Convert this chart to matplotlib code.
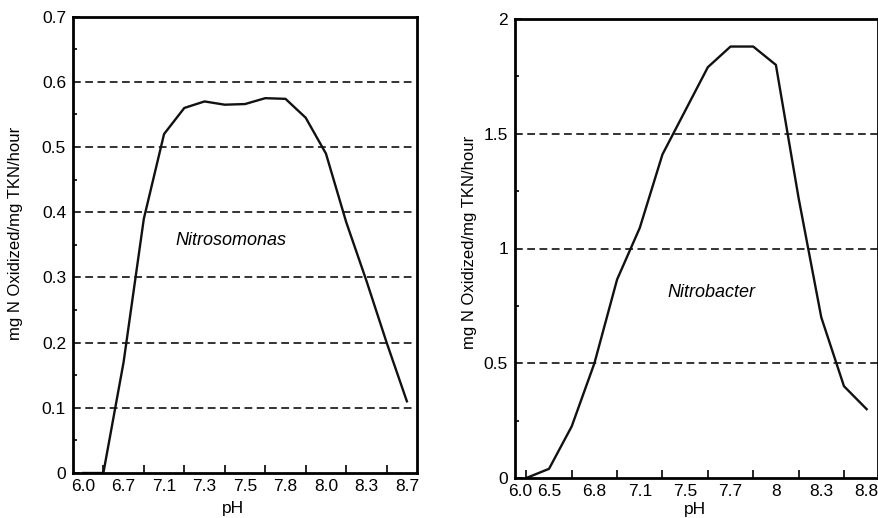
import matplotlib
matplotlib.use('Agg')
import matplotlib.pyplot as plt
from matplotlib.ticker import FixedLocator, MultipleLocator, NullFormatter

plt.rcParams['font.family'] = ['Liberation Sans', 'DejaVu Sans']

# Nitrosomonas: 17 evenly spaced points, labels on every other one
nitroso_labels = ['6.0', '6.7', '7.1', '7.3', '7.5', '7.8', '8.0', '8.3', '8.7']
nitroso_rate = [0, 0, 0.17, 0.39, 0.52, 0.56, 0.57, 0.565, 0.566, 0.575,
                0.574, 0.545, 0.49, 0.385, 0.295, 0.2, 0.11]
nitroso_grid = [0.1, 0.2, 0.3, 0.4, 0.5, 0.6]

# Nitrobacter: 16 evenly spaced points
nitrob_labels = ['6.0', '6.5', '6.8', '7.1', '7.5', '7.7', '8', '8.3', '8.8']
nitrob_rate = [0, 0.04, 0.225, 0.5, 0.865, 1.09, 1.41, 1.6, 1.79, 1.88,
               1.88, 1.8, 1.22, 0.7, 0.4, 0.3]
nitrob_grid = [0.5, 1.0, 1.5]

ylab = 'mg N Oxidized/mg TKN/hour'
dash = (0, (4, 2.3))
tick_fs = 12.5

fig = plt.figure(figsize=(8.79, 5.18), dpi=100)
ax1 = fig.add_axes([73/879, 1-473/518, 344/879, 456.3/518])
ax2 = fig.add_axes([515/879, 1-478/518, 363/879, 459/518])


def style(ax, n, label_pos, labels, ymax, ymaj, ymin_step):
    ax.set_xlim(-0.5, n - 0.5)
    ax.set_ylim(0, ymax)
    ax.xaxis.set_minor_locator(FixedLocator(list(range(n))))
    ax.xaxis.set_minor_formatter(NullFormatter())
    ax.set_xticks(label_pos)
    ax.set_xticklabels(labels)
    ax.yaxis.set_major_locator(MultipleLocator(ymaj))
    ax.yaxis.set_minor_locator(MultipleLocator(ymin_step))
    ax.tick_params(axis='x', which='major', length=0, pad=4, labelsize=tick_fs)
    ax.tick_params(axis='x', which='minor', direction='in', length=5.5, width=1.2)
    ax.tick_params(axis='y', which='major', direction='in', length=5, width=1.2,
                   pad=5, labelsize=tick_fs)
    ax.tick_params(axis='y', which='minor', direction='in', length=3, width=1.2)
    for s in ax.spines.values():
        s.set_linewidth(2)


# left panel
n1 = len(nitroso_rate)
style(ax1, n1, list(range(0, n1, 2)), nitroso_labels, 0.7, 0.1, 0.05)
ax1.yaxis.set_major_formatter(plt.FuncFormatter(lambda v, p: '0' if v == 0 else f'{v:.1f}'))
for g in nitroso_grid:
    ax1.axhline(g, xmin=0, xmax=0.985, ls=dash, lw=1.4, color='#333333')
ax1.plot(range(n1), nitroso_rate, color='#111111', lw=1.7)
ax1.text(7.3, 0.357, 'Nitrosomonas', style='italic', fontsize=13,
         ha='center', va='center')
ax1.set_xlabel('pH', fontsize=12.5)
ax1.xaxis.set_label_coords(0.465, -0.062)
ax1.set_ylabel(ylab, fontsize=12)
ax1.yaxis.set_label_coords(-0.146, 0.526)

# right panel
n2 = len(nitrob_rate)
style(ax2, n2, [-0.25] + list(range(1, n2, 2)), nitrob_labels, 2, 0.5, 0.25)
ax2.yaxis.set_major_formatter(plt.FuncFormatter(lambda v, p: f'{v:g}'))
for g in nitrob_grid:
    ax2.axhline(g, ls=dash, lw=1.4, color='#333333')
ax2.plot(range(n2), nitrob_rate, color='#111111', lw=1.7)
ax2.text(8.15, 0.81, 'Nitrobacter', style='italic', fontsize=13,
         ha='center', va='center')
ax2.set_xlabel('pH', fontsize=12.5)
ax2.xaxis.set_label_coords(0.496, -0.052)
ax2.set_ylabel(ylab, fontsize=12)
ax2.yaxis.set_label_coords(-0.105, 0.514)

fig.savefig('out.png', dpi=100)
